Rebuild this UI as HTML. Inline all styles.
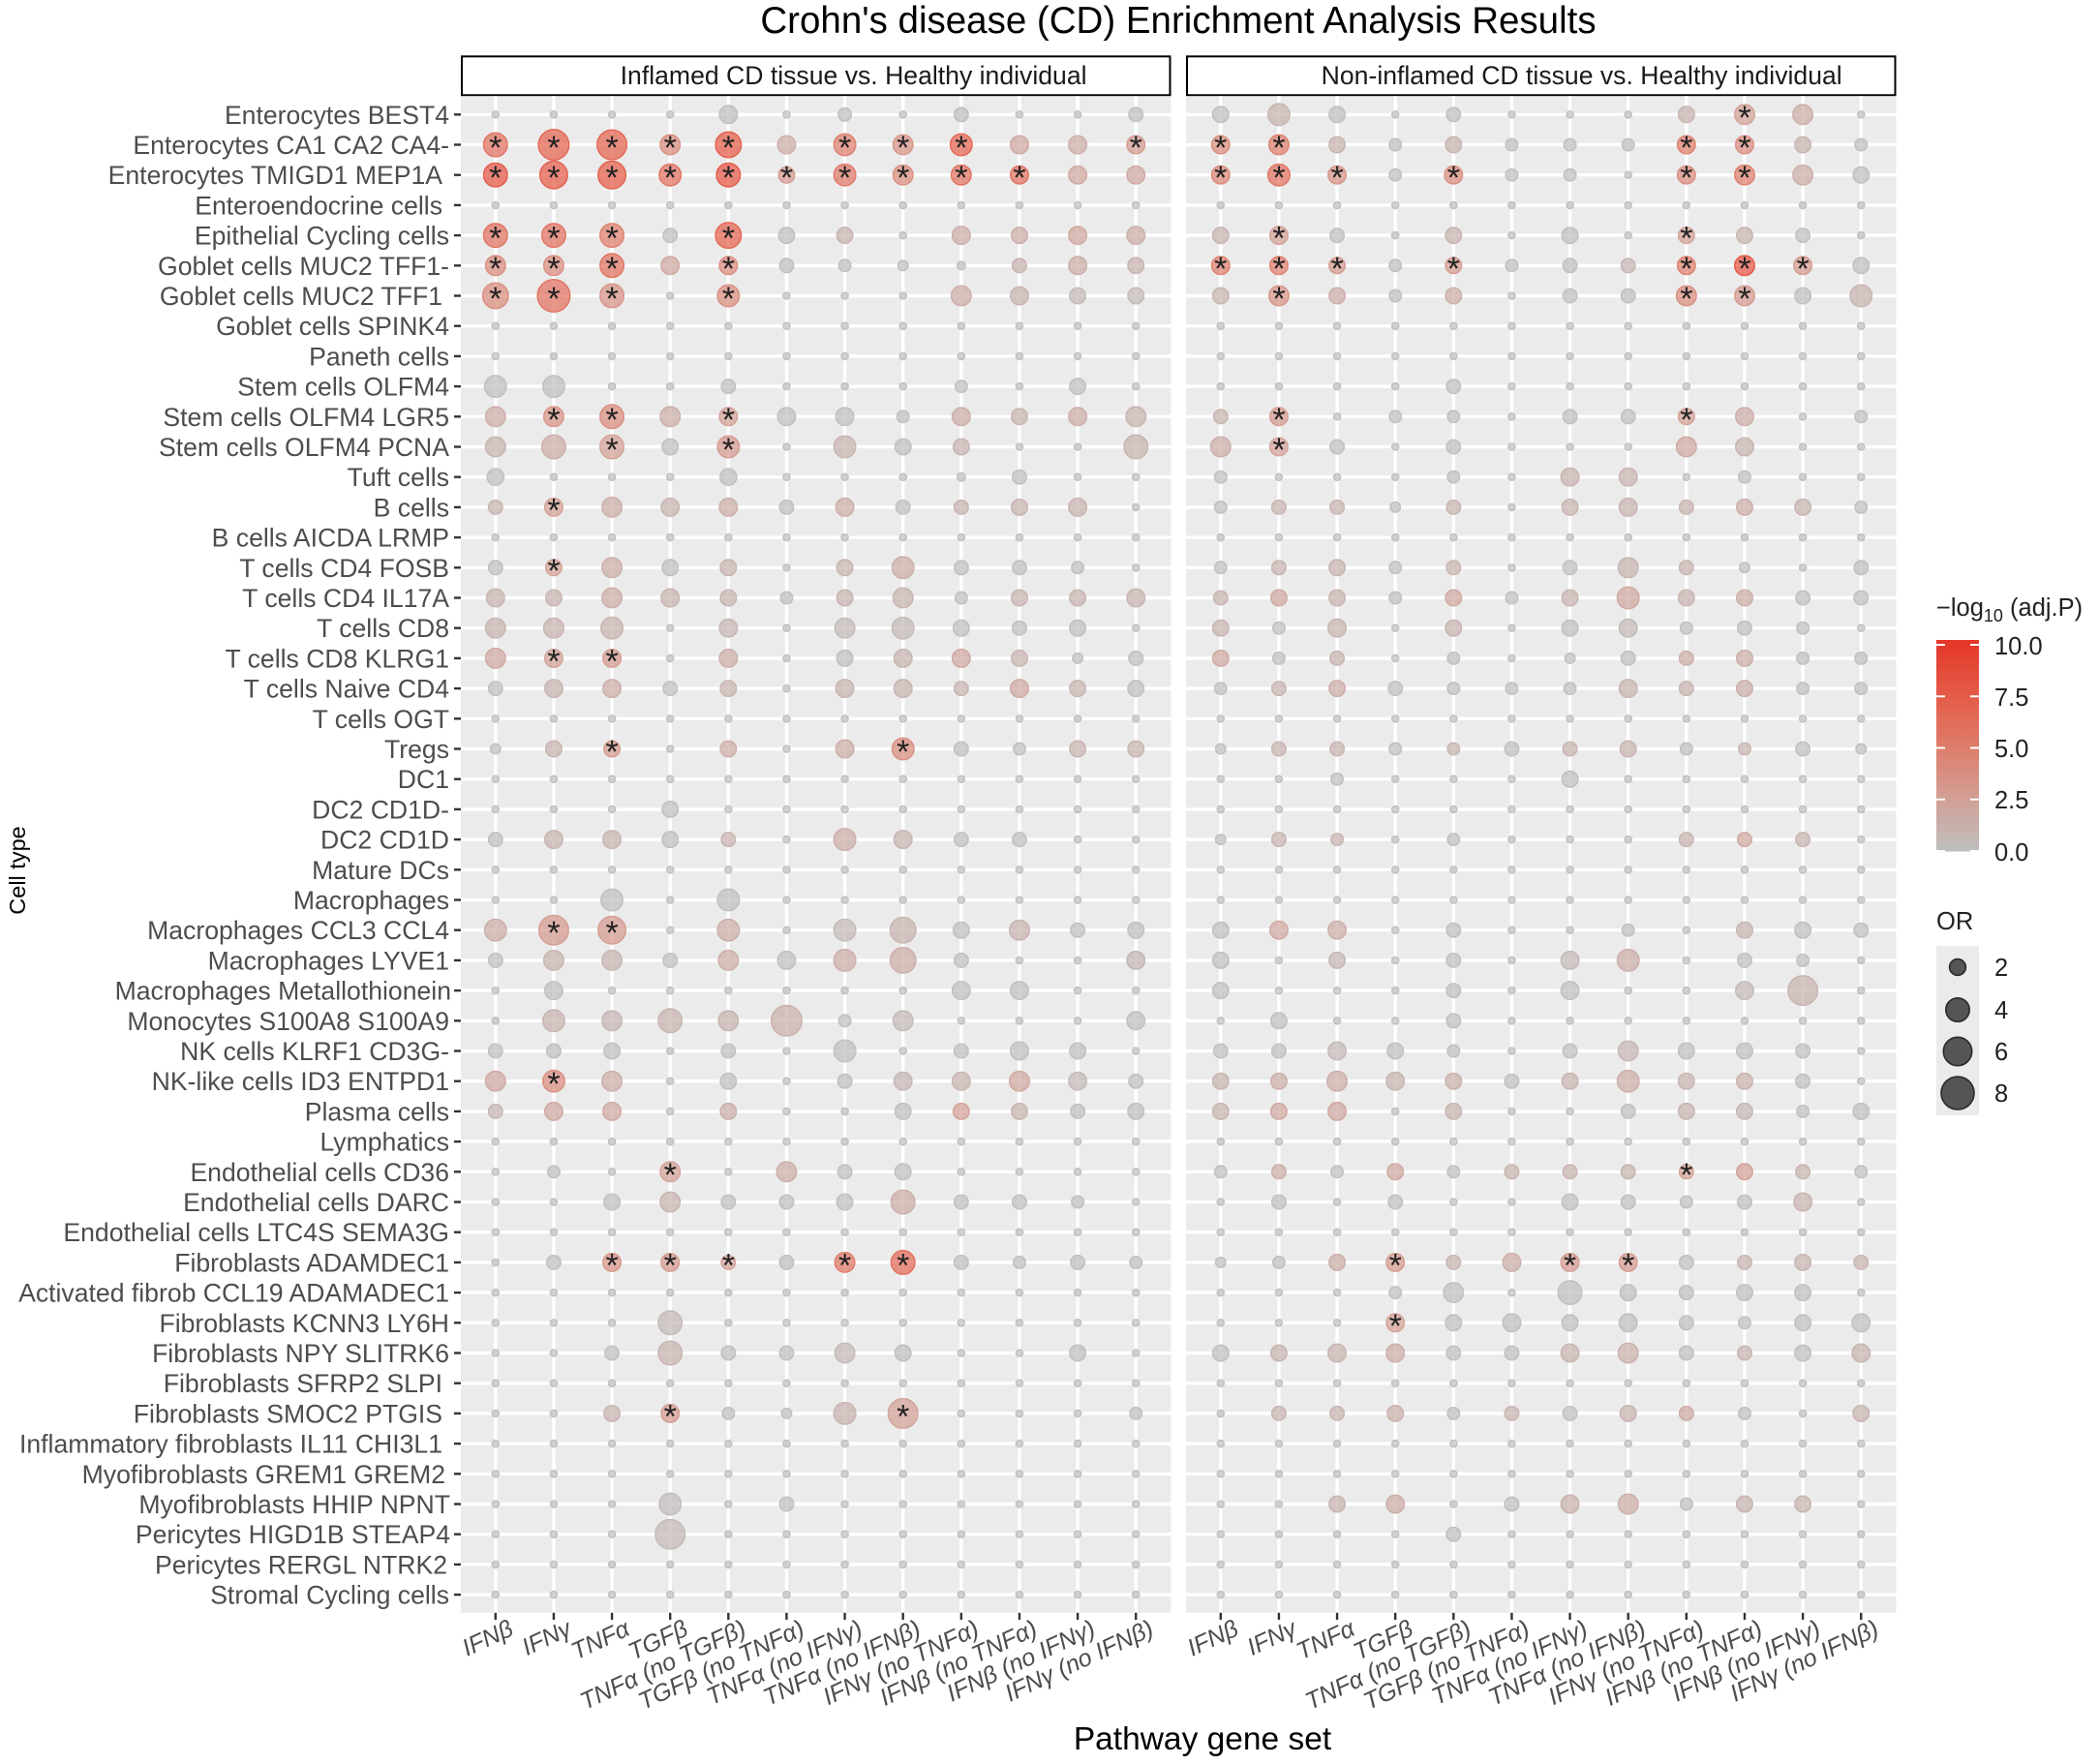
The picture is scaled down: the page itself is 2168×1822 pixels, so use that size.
<!DOCTYPE html>
<html>
<head>
<meta charset="utf-8">
<style>
  html,body{margin:0;padding:0;background:#ffffff;}
  svg{display:block;}
  text{font-family:"Liberation Sans",Arial,sans-serif;}
  .yl{font-size:26.6px;fill:#4d4d4d;text-anchor:end;}
  .xl{font-size:25px;fill:#4d4d4d;text-anchor:end;font-style:italic;}
  .lg{font-size:25.5px;fill:#222;}
</style>
</head>
<body>
<svg id="chart" xmlns="http://www.w3.org/2000/svg" width="2168" height="1822" viewBox="0 0 2168 1822">
  <defs>
    <linearGradient id="cbar" gradientUnits="userSpaceOnUse" x1="0" y1="666" x2="0" y2="879">
      <stop offset="0" stop-color="rgb(228,57,43)"/>
      <stop offset="0.25" stop-color="rgb(228,92,72)"/>
      <stop offset="0.5" stop-color="rgb(222,125,108)"/>
      <stop offset="0.75" stop-color="rgb(210,160,150)"/>
      <stop offset="1" stop-color="rgb(190,190,190)"/>
    </linearGradient>
  </defs>
  <rect x="0" y="0" width="2168" height="1822" fill="#ffffff"/>

  <!-- Title -->
  <text x="1217" y="34" text-anchor="middle" font-size="38.5" fill="#000">Crohn's disease (CD) Enrichment Analysis Results</text>

  <!-- Strips -->
  <rect x="477" y="58.3" width="731.5" height="40" fill="#ffffff" stroke="#000" stroke-width="2"/>
  <rect x="1226" y="58.3" width="731.5" height="40" fill="#ffffff" stroke="#000" stroke-width="2"/>
  <text x="881.6" y="87" text-anchor="middle" font-size="26.6" fill="#1a1a1a">Inflamed CD tissue vs. Healthy individual</text>
  <text x="1633.7" y="87" text-anchor="middle" font-size="26.6" fill="#1a1a1a">Non-inflamed CD tissue vs. Healthy individual</text>

  <!-- Panels -->
  <rect x="476" y="99.3" width="733.5" height="1566.5" fill="#ebebeb"/>
  <rect x="1225" y="99.3" width="733.5" height="1566.5" fill="#ebebeb"/>
  <g id="grid"></g>
  <g id="ticks"></g>
  <g id="dots"></g>

  <!-- Y labels -->
  <g class="yl">
    <text x="464" y="127.8">Enterocytes BEST4</text>
    <text x="464" y="159.0">Enterocytes CA1 CA2 CA4-</text>
    <text x="457" y="190.2">Enterocytes TMIGD1 MEP1A</text>
    <text x="457" y="221.4">Enteroendocrine cells</text>
    <text x="464" y="252.6">Epithelial Cycling cells</text>
    <text x="464" y="283.8">Goblet cells MUC2 TFF1-</text>
    <text x="457" y="315.0">Goblet cells MUC2 TFF1</text>
    <text x="464" y="346.2">Goblet cells SPINK4</text>
    <text x="464" y="377.4">Paneth cells</text>
    <text x="464" y="408.6">Stem cells OLFM4</text>
    <text x="464" y="439.8">Stem cells OLFM4 LGR5</text>
    <text x="464" y="471.0">Stem cells OLFM4 PCNA</text>
    <text x="464" y="502.2">Tuft cells</text>
    <text x="464" y="533.4">B cells</text>
    <text x="464" y="564.6">B cells AICDA LRMP</text>
    <text x="464" y="595.8">T cells CD4 FOSB</text>
    <text x="464" y="627.0">T cells CD4 IL17A</text>
    <text x="464" y="658.2">T cells CD8</text>
    <text x="464" y="689.4">T cells CD8 KLRG1</text>
    <text x="464" y="720.6">T cells Naive CD4</text>
    <text x="464" y="751.8">T cells OGT</text>
    <text x="464" y="783.0">Tregs</text>
    <text x="464" y="814.2">DC1</text>
    <text x="464" y="845.4">DC2 CD1D-</text>
    <text x="464" y="876.6">DC2 CD1D</text>
    <text x="464" y="907.8">Mature DCs</text>
    <text x="464" y="939.0">Macrophages</text>
    <text x="464" y="970.2">Macrophages CCL3 CCL4</text>
    <text x="464" y="1001.4">Macrophages LYVE1</text>
    <text x="466" y="1032.6">Macrophages Metallothionein</text>
    <text x="464" y="1063.8">Monocytes S100A8 S100A9</text>
    <text x="464" y="1095.0">NK cells KLRF1 CD3G-</text>
    <text x="464" y="1126.2">NK-like cells ID3 ENTPD1</text>
    <text x="464" y="1157.4">Plasma cells</text>
    <text x="464" y="1188.6">Lymphatics</text>
    <text x="464" y="1219.8">Endothelial cells CD36</text>
    <text x="464" y="1251.0">Endothelial cells DARC</text>
    <text x="464" y="1282.2">Endothelial cells LTC4S SEMA3G</text>
    <text x="464" y="1313.4">Fibroblasts ADAMDEC1</text>
    <text x="464" y="1344.6">Activated fibrob CCL19 ADAMADEC1</text>
    <text x="464" y="1375.8">Fibroblasts KCNN3 LY6H</text>
    <text x="464" y="1407.0">Fibroblasts NPY SLITRK6</text>
    <text x="457" y="1438.2">Fibroblasts SFRP2 SLPI</text>
    <text x="457" y="1469.4">Fibroblasts SMOC2 PTGIS</text>
    <text x="457" y="1500.6">Inflammatory fibroblasts IL11 CHI3L1</text>
    <text x="460" y="1531.8">Myofibroblasts GREM1 GREM2</text>
    <text x="465" y="1563.0">Myofibroblasts HHIP NPNT</text>
    <text x="465" y="1594.2">Pericytes HIGD1B STEAP4</text>
    <text x="462" y="1625.4">Pericytes RERGL NTRK2</text>
    <text x="464" y="1656.6">Stromal Cycling cells</text>
  </g>

  <!-- X labels panel 1 -->
  <g class="xl">
    <text transform="translate(531.8,1688) rotate(-25)">IFNβ</text>
    <text transform="translate(591.9,1688) rotate(-25)">IFNγ</text>
    <text transform="translate(652.1,1688) rotate(-25)">TNFα</text>
    <text transform="translate(712.2,1688) rotate(-25)">TGFβ</text>
    <text transform="translate(772.3,1688) rotate(-25)">TNFα (no TGFβ)</text>
    <text transform="translate(832.5,1688) rotate(-25)">TGFβ (no TNFα)</text>
    <text transform="translate(892.6,1688) rotate(-25)">TNFα (no IFNγ)</text>
    <text transform="translate(952.7,1688) rotate(-25)">TNFα (no IFNβ)</text>
    <text transform="translate(1012.8,1688) rotate(-25)">IFNγ (no TNFα)</text>
    <text transform="translate(1073.0,1688) rotate(-25)">IFNβ (no TNFα)</text>
    <text transform="translate(1133.1,1688) rotate(-25)">IFNβ (no IFNγ)</text>
    <text transform="translate(1193.2,1688) rotate(-25)">IFNγ (no IFNβ)</text>
  </g>
  <!-- X labels panel 2 -->
  <g class="xl">
    <text transform="translate(1280.8,1688) rotate(-25)">IFNβ</text>
    <text transform="translate(1340.9,1688) rotate(-25)">IFNγ</text>
    <text transform="translate(1401.1,1688) rotate(-25)">TNFα</text>
    <text transform="translate(1461.2,1688) rotate(-25)">TGFβ</text>
    <text transform="translate(1521.3,1688) rotate(-25)">TNFα (no TGFβ)</text>
    <text transform="translate(1581.5,1688) rotate(-25)">TGFβ (no TNFα)</text>
    <text transform="translate(1641.6,1688) rotate(-25)">TNFα (no IFNγ)</text>
    <text transform="translate(1701.7,1688) rotate(-25)">TNFα (no IFNβ)</text>
    <text transform="translate(1761.8,1688) rotate(-25)">IFNγ (no TNFα)</text>
    <text transform="translate(1822.0,1688) rotate(-25)">IFNβ (no TNFα)</text>
    <text transform="translate(1882.1,1688) rotate(-25)">IFNβ (no IFNγ)</text>
    <text transform="translate(1942.2,1688) rotate(-25)">IFNγ (no IFNβ)</text>
  </g>

  <!-- Axis titles -->
  <text x="1242" y="1807" text-anchor="middle" font-size="33.5" fill="#000">Pathway gene set</text>
  <text transform="translate(26,899) rotate(-90)" text-anchor="middle" font-size="23.5" fill="#000">Cell type</text>

  <!-- Colour legend -->
  <text class="lg" x="2000" y="636" font-size="26">−log<tspan font-size="18" dy="6">10</tspan><tspan dy="-6"> (adj.P)</tspan></text>
  <rect x="2000" y="661" width="44" height="218.5" fill="url(#cbar)"/>
  <g stroke="#ffffff" stroke-width="2">
    <line x1="2000" y1="666" x2="2009" y2="666"/><line x1="2035" y1="666" x2="2044" y2="666"/>
    <line x1="2000" y1="719.25" x2="2009" y2="719.25"/><line x1="2035" y1="719.25" x2="2044" y2="719.25"/>
    <line x1="2000" y1="772.5" x2="2009" y2="772.5"/><line x1="2035" y1="772.5" x2="2044" y2="772.5"/>
    <line x1="2000" y1="825.75" x2="2009" y2="825.75"/><line x1="2035" y1="825.75" x2="2044" y2="825.75"/>
    <line x1="2000" y1="879" x2="2009" y2="879"/><line x1="2035" y1="879" x2="2044" y2="879"/>
  </g>
  <text class="lg" x="2060" y="676">10.0</text>
  <text class="lg" x="2060" y="729">7.5</text>
  <text class="lg" x="2060" y="782">5.0</text>
  <text class="lg" x="2060" y="835">2.5</text>
  <text class="lg" x="2060" y="889">0.0</text>

  <!-- Size legend -->
  <text class="lg" x="2000" y="960" font-size="26">OR</text>
  <rect x="2000" y="977" width="44" height="175" fill="#ebebeb"/>
  <g fill="#333" fill-opacity="0.82" stroke="#2a2a2a" stroke-width="1.6">
    <circle cx="2022" cy="999" r="8.4"/>
    <circle cx="2022" cy="1043" r="12.2"/>
    <circle cx="2022" cy="1086" r="14.7"/>
    <circle cx="2022" cy="1129" r="17"/>
  </g>
  <text class="lg" x="2060" y="1008">2</text>
  <text class="lg" x="2060" y="1052">4</text>
  <text class="lg" x="2060" y="1095">6</text>
  <text class="lg" x="2060" y="1138">8</text>
</svg>

<script>
(function(){
var NS="http://www.w3.org/2000/svg";
var A=". . . . . . . . . . . .";
var P1=[
". . . . 10 . 7.5 . 8 . . 8",
"13/6* 16.5/7* 16/7* 11/4* 14/7.5* 10/1.5 12/5* 11/3.5* 12/7* 10/2 10/1.5 10/3*",
"13/8* 15/7.5* 15/7.5* 12/6* 13/8* 9/3* 12/5.5* 11/4* 11/6* 10/6* 10/2 10/2",
A,
"13/6* 13/6* 13/5* 8 14/7* 9 9/1 . 10/1.5 9/1.5 10/2 10/1.5",
"11/4* 11/4* 13/6* 10/2 10/4* 8 7 6 5 8/1 10/1.5 9/1",
"14/4* 17.5/6* 13/3.5* . 12/4* . . . 11/1.5 10/1 9/0.5 9/0.5",
A,
A,
"12 12 . . 8 . . . 7 . 9 .",
"11/1.5 11/3.5* 13/4* 11/1.5 10/2.5* 10 10 7 10/1.5 9/1 10/1.5 11/1",
"11/1 13/1.5 13/2.5* 9 12/3* . 12/1 9 9/1 . . 13/1",
"9.3 . . . 9.3 . . . 5 8 . .",
"8/1 10/2.5* 11/1.5 10/1 10/1.5 8 10/1.5 8 8/1 9/1 10/1 .",
A,
"8 9/2.5* 11/1.5 9 9/1 . 9/1 12/1.5 8 8 7 .",
"10/1 9/1 11/1.5 10/1 9/1 7 9/1 11/1 7 9/1 9/1 10/1",
"11/1 11/1 12/1 . 10/0.8 . 11/0.5 12/0.5 9 8 9 .",
"11/2 10/2.5* 10/3* . 10/1.5 . 9 10/1 10/2 9/1 6 8",
"8 10/1 10/1.5 8 9/1 . 10/1 10/1 8/1 10/2 9/1 9",
A,
"6 9/1 9/3* . 9/1.5 . 10/1.5 12/4* 8 7 9/1 9/1",
A,
". . . 9 . . . . . . . .",
"8 10/1 10/1 9 8/1 . 12/1.5 10/1 8 8 . .",
A,
". . 12 . 12 . . . . . . .",
"12/1.5 16/3* 15/3* . 12/1.5 . 12/0.5 14/1 9 11/1 8 9",
"8 11/1 11/1 8 11/1.5 10 12/1.5 14/1.5 8 . . 10/0.8",
". 10 . . . . . . 10 10 . .",
". 12/1 11/0.8 13/1 11/1 16.5/1.3 7 11/0.5 . . . 10",
"8 8 9 . 8 . 12 . 8 10 9 .",
"11/2 12/4* 11/1.5 . 9 . 8 10/0.8 10/1 11/2 10/0.5 8",
"8/0.8 10/2 10/2 . 9/1.5 . . 9 9/2.5 9/1 8 9",
A,
". 7 . 11/2.5* . 11/1.5 8 9 . . . .",
". . 9 11/1 8 8 9 13/1.5 8 8 7 .",
A,
". 8 10/3.5* 10/3* 8/2.5* 8 11/5.5* 13/6.5* 8 7 8 7",
A,
". . . 13/0.5 . . . . . . . .",
". . 8 13/1 8 8 11/0.5 9 . . 9 .",
A,
". . 9/1 10/3* 7 6 12/1 16/2.5* . . . 7",
A,
A,
". . . 12/0.3 . 8 . . . . . .",
". . . 16/0.5 . . . . . . . .",
A,
A
];
var P2=[
"9 12/1 9 . 8 . . . 9/1 11/2.5* 11/1.5 .",
"10/4* 11/5* 9/1 7 9/1 7 7 7 10/5* 10/4* 9/1 7",
"10/4.5* 12/6* 10/3.5* 7 10/4* 7 7 . 10/4* 11/5* 11/1.5 9",
A,
"9/1 10/2.5* 8 . 9/1 . 9 . 9/2.5* 9/1 8 .",
"10/5* 10/5* 9/3* 7 9/3* 7 8 8/0.8 10/5* 11/8* 10/3* 9",
"9/1 11/3.5* 9/1.5 7 9/1.5 . 8 8 11/4* 11/3* 9 12/1",
A,
A,
". . . . 8 . . . . . . .",
"8/1 10/3* . 7 7 . 8 8 9/2.5* 10/1.5 . 7",
"11/1.5 10/2.5* 8 . 8 . . . 11/2 10/1 . .",
"7 . . . 7 . 10/1 10/1 . 7 . .",
"7 8/1 8/1 6 8/1 . 9/1 10/1 8/1 9/1.5 9/1 7",
A,
"7 8/1 9/1 7 8/1 . 8 11/1 8/1 6 . 8",
"8/1 9/2 9/1 7 9/2 7 9/1 12/2 9/1 9/1.5 8 8",
"9/1 7 10/1 . 9/1 . 9 10/0.5 7 8 7 .",
"9/2 7 8/1 . 7 . 6 8 8/1.5 9/1.5 7 7",
"7 8/1 9/1.5 8 7 7 7 10/1 8/1 9/1.5 7 7",
A,
"6 8/1 8/1 7 7/1 8 8/1 9/1 7 7/1 8 6",
". . 7 . . . 9 . . . . .",
A,
"6 8/1 7/1 . 7 . . . 8/1 8/2 8/1 .",
A,
A,
"9 10/2 10/1.5 . 8 . . 7 . 9/1 9 8",
"9 . 9/0.8 . 8 . 10/0.5 12/1.5 . 8 7 .",
"9 . . . 8 . 10 . . 10/0.5 16/1 .",
". 9 . . 8 . . . . . . .",
"8 8 10/0.5 9 7 . 8 11/0.8 9 9 8 .",
"9/1 9/1.5 11/1.5 10/1 9/1.3 8 9/1 12/1.5 9/1 9/1.2 8 .",
"9/1 9/2 10/2 . 9/1 . . 8 9/1 9/0.8 7 9",
A,
"7 8/1.5 7 9/2 7 8/1 8/1 8/1 8/2.5* 9/2.5 8/1 7",
". 8 . 8 . . 9 8 7 8 10/1 .",
A,
"6 7 9/1.5 10/3* 8/1 10/1.5 10/3* 10/3* 8 8/1 9/1 8/1",
". . . 7 11 . 13 9 8 9 9 .",
". . . 10/2.5* 9 10 9 10 8 7 9 10",
"9 9/1 10/1 10/1.5 8 8 10/1 11/1.2 8 8/1 9 10/1",
A,
". 8/1 8/1 9/1.3 7 8/1 8 9/1 8/1.8 7 . 9/1",
A,
A,
". . 9/1 10/1.5 . 8 10/1.2 11/1.5 7 9/1 9/1 .",
". . . . 8 . . . . . . .",
A,
A
];
var stops=[[0,[190,190,190]],[2.5,[210,160,150]],[5,[222,125,108]],[7.5,[228,92,72]],[10,[228,57,43]]];
function col(v){
  v=Math.max(0,Math.min(10,v));
  for(var i=0;i<stops.length-1;i++){
    var a=stops[i][0],ca=stops[i][1],b=stops[i+1][0],cb=stops[i+1][1];
    if(v<=b){var t=(v-a)/(b-a);
      return 'rgb('+Math.round(ca[0]+(cb[0]-ca[0])*t)+','+Math.round(ca[1]+(cb[1]-ca[1])*t)+','+Math.round(ca[2]+(cb[2]-ca[2])*t)+')';}
  }
  return 'rgb(228,57,43)';
}
function el(tag,attrs,parent){var e=document.createElementNS(NS,tag);for(var k in attrs)e.setAttribute(k,attrs[k]);parent.appendChild(e);return e;}
var grid=document.getElementById('grid'),ticks=document.getElementById('ticks'),dots=document.getElementById('dots');
var panels=[[P1,511.8,476],[P2,1260.8,1225]];
var y0=99.3,y1=1665.8,dx=60.13,dy=31.2,ry0=118.3;
panels.forEach(function(p,pi){
  var P=p[0],cx0=p[1],px0=p[2],px1=px0+733.5;
  for(var j=0;j<50;j++){var y=ry0+j*dy;el('line',{x1:px0,y1:y,x2:px1,y2:y,stroke:'#ffffff','stroke-width':3.4},grid);
    if(pi===0)el('line',{x1:469,y1:y,x2:476,y2:y,stroke:'#333','stroke-width':2.4},ticks);}
  for(var i=0;i<12;i++){var x=cx0+i*dx;el('line',{x1:x,y1:y0,x2:x,y2:y1,stroke:'#ffffff','stroke-width':3.4},grid);
    el('line',{x1:x,y1:1665.8,x2:x,y2:1673,stroke:'#333','stroke-width':2.4},ticks);}
  for(var j=0;j<50;j++){
    var y=ry0+j*dy;
    var toks=P[j].trim().split(/\s+/);
    for(var i=0;i<12;i++){
      var t=toks[i]||'.';var x=cx0+i*dx;
      var r=4.3,v=0,star=false;
      if(t!=='.'){star=t.charAt(t.length-1)==='*';if(star)t=t.slice(0,-1);var q=t.split('/');r=parseFloat(q[0]);v=q.length>1?parseFloat(q[1]):0;}
      var c=col(v);
      el('circle',{cx:x,cy:y,r:Math.max(2.5,r-0.7),fill:c,'fill-opacity':0.72,stroke:c,'stroke-opacity':0.95,'stroke-width':1.4},dots);
      if(star){var s=el('text',{x:x,y:y+14.5,'text-anchor':'middle','font-size':34,fill:'#222'},dots);s.textContent='*';}
    }
  }
});
})();
</script>
</body>
</html>
